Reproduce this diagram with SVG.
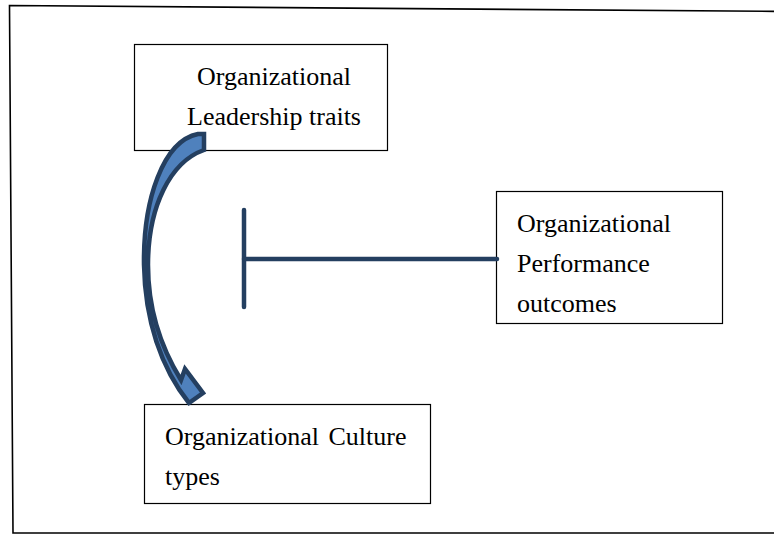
<svg xmlns="http://www.w3.org/2000/svg" width="774" height="536" viewBox="0 0 774 536">
<style>
  .box { fill: #ffffff; stroke: #000000; stroke-width: 1.2; }
  .lbl { font-family: "Liberation Serif", "Times New Roman", serif; font-size: 26px; fill: #000000; }
  .bar { stroke: #243F60; stroke-width: 4.5; stroke-linecap: round; fill: none; }
  .curved { fill: #4F81BD; stroke: #243F60; stroke-width: 4.5; stroke-linejoin: miter; }
</style>
<rect width="774" height="536" fill="#ffffff"/>
<polygon id="frame" points="9.5,5.5 790,11.5 790,533 13,533" fill="none" stroke="#000000" stroke-width="1.6"/>

<g id="node-leadership">
  <rect class="box" x="134.5" y="44.5" width="253" height="106"/>
  <text class="lbl" x="274" y="85" text-anchor="middle">Organizational</text>
  <text class="lbl" x="274" y="125" text-anchor="middle">Leadership traits</text>
</g>

<g id="node-performance">
  <rect class="box" x="496.5" y="191.5" width="226" height="132"/>
  <text class="lbl" x="517" y="232">Organizational</text>
  <text class="lbl" x="517" y="272">Performance</text>
  <text class="lbl" x="517" y="312">outcomes</text>
</g>

<g id="node-culture">
  <rect class="box" x="144.5" y="404.5" width="286" height="99"/>
  <text class="lbl" x="165" y="445" word-spacing="3">Organizational Culture</text>
  <text class="lbl" x="165" y="485">types</text>
</g>

<g id="connectors">
  <path class="curved" d="M 204 134 L 198 134 C 163 141, 143 200, 144 265 C 145 320, 161 368, 189 403 L 203 393 L 185 369 L 181 380 C 160 346, 148 310, 148 265 C 148 207, 170 162, 204 150 Z"/>
  <line class="bar" x1="244" y1="210" x2="244" y2="307"/>
  <line class="bar" x1="244" y1="259" x2="497" y2="259"/>
</g>
</svg>
